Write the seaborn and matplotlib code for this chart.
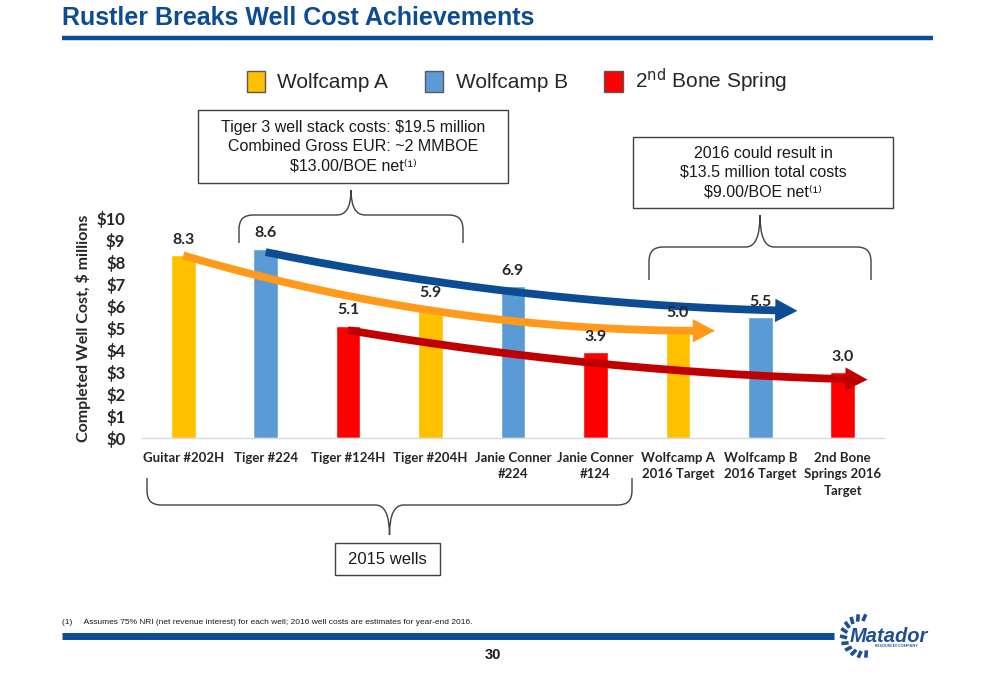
import numpy as np
import pandas as pd
import seaborn as sns
import matplotlib
matplotlib.use("Agg")
import matplotlib.pyplot as plt
from matplotlib.patches import Patch, FancyArrowPatch, Rectangle, PathPatch
from matplotlib.path import Path
from matplotlib.lines import Line2D

# ---------------- data ----------------
categories = ["Guitar #202H", "Tiger #224", "Tiger #124H", "Tiger #204H",
              "Janie Conner\n#224", "Janie Conner\n#124", "Wolfcamp A\n2016 Target",
              "Wolfcamp B\n2016 Target", "2nd Bone\nSprings 2016\nTarget"]
costs = [8.3, 8.6, 5.1, 5.9, 6.9, 3.9, 5.0, 5.5, 3.0]
formations = ["Wolfcamp A", "Wolfcamp B", "2nd Bone Spring"] * 3
formation_order = ["Wolfcamp A", "Wolfcamp B", "2nd Bone Spring"]
legend_labels = ["Wolfcamp A", "Wolfcamp B", "2$^{\\mathrm{nd}}$ Bone Spring"]
bar_colors = ["#FFC000", "#5B9BD5", "#FF0000"]
arrow_colors = ["#FF9A1A", "#0B4C94", "#C00000"]
# trend arrows (category index, $ millions)
trend_x = [[0, 3, 6], [1, 4, 7], [2, 5, 8]]
trend_y = [[8.3, 5.8, 4.88], [8.45, 6.65, 5.82], [4.9, 3.4, 2.68]]
trend_end = [6.45, 7.45, 8.3]
y_ticks = list(range(0, 11))
y_tick_labels = [f"${v}" for v in y_ticks]

title = "Rustler Breaks Well Cost Achievements"
box1_lines = ["Tiger 3 well stack costs: $19.5 million", "Combined Gross EUR: ~2 MMBOE",
              "$13.00/BOE net\u207d\u00b9\u207e"]
box2_lines = ["2016 could result in", "$13.5 million total costs",
              "$9.00/BOE net\u207d\u00b9\u207e"]
box3_lines = ["2015 wells"]
footnote = "(1)     Assumes 75% NRI (net revenue interest) for each well; 2016 well costs are estimates for year-end 2016."

df = pd.DataFrame({"category": categories, "cost": costs, "formation": formations})

# ---------------- figure ----------------
sns.set_theme(style="white")
plt.rcParams["font.family"] = ["Lato", "DejaVu Sans"]
plt.rcParams["mathtext.default"] = "regular"

W, H = 999, 675
fig = plt.figure(figsize=(W / 100, H / 100), dpi=100)
fig.patch.set_facecolor("white")


def px(x, y):
    return (x / W, 1 - y / H)


ax = fig.add_axes([142 / W, 1 - 438 / H, 742 / W, 220 / H])
ax.set_facecolor("white")

sns.barplot(data=df, x="category", y="cost", hue="formation", order=categories,
            hue_order=formation_order, palette=dict(zip(formation_order, bar_colors)),
            dodge=False, width=0.3, saturation=1, legend=False, ax=ax, zorder=2)

for c in ax.containers:
    for t in ax.bar_label(c, fmt="%.1f", padding=6, fontsize=11.5, fontweight="bold",
                          color="#262626"):
        t.set_zorder(8)

ax.set_xlim(-0.5, len(categories) - 0.5)
ax.set_ylim(0, 10)
ax.set_yticks(y_ticks)
ax.set_yticklabels(y_tick_labels, fontsize=12, fontweight="bold", color="#262626")
ax.set_xticks(range(len(categories)))
ax.set_xticklabels(categories, fontsize=9.5, fontweight="bold", color="#262626",
                   linespacing=1.45)
ax.tick_params(axis="x", length=0, pad=10)
ax.tick_params(axis="y", length=0, pad=12)
ax.set_xlabel("")
ax.set_ylabel("Completed Well Cost, $ millions", fontsize=11.5, fontweight="bold",
              color="#262626", labelpad=4)
for s in ["top", "right", "left"]:
    ax.spines[s].set_visible(False)
ax.spines["bottom"].set_color("#D9D9D9")
ax.spines["bottom"].set_linewidth(1)
ax.grid(False)

# trend arrows
for tx, ty, xe, col in zip(trend_x, trend_y, trend_end, arrow_colors):
    coef = np.polyfit(tx, ty, 2)
    xs = np.linspace(tx[0], xe - 0.2, 200)
    ax.plot(xs, np.polyval(coef, xs), color=col, lw=5.6, solid_capstyle="butt", zorder=4)
    xa = xe - 0.25
    arr = FancyArrowPatch((xa, np.polyval(coef, xa)), (xe, np.polyval(coef, xe)),
                          arrowstyle="-|>,head_length=0.8,head_width=0.42",
                          mutation_scale=20, color=col, lw=0, shrinkA=0, shrinkB=0,
                          zorder=5)
    ax.add_patch(arr)

# ---------------- page decorations ----------------
fig.text(*px(62, 18), title, fontsize=18, fontweight="bold", color="#0B4C94",
         family=["Liberation Sans Narrow", "Liberation Sans"], va="center", ha="left")
fig.add_artist(Line2D([62 / W, 933 / W], [1 - 38 / H] * 2, lw=3.2, color="#0B4C94",
                      solid_capstyle="butt"))
fig.add_artist(Line2D([62 / W, 834 / W], [1 - 636 / H] * 2, lw=5, color="#0B4C94",
                      solid_capstyle="butt"))
fig.text(*px(493, 655), "30", fontsize=10.5, fontweight="bold", color="#1a1a1a",
         family=["Liberation Sans Narrow", "Liberation Sans"], ha="center", va="center")
fig.text(*px(62, 622), footnote, fontsize=6, color="#1a1a1a",
         family=["Liberation Sans Narrow", "Liberation Sans"], ha="left", va="center")

# logo approximation
fig.text(*px(889, 636), "Matador", fontsize=14.5, fontweight="bold", style="italic",
         color="#1F4E9A", family=["Liberation Sans Narrow", "Liberation Sans"],
         ha="center", va="center")
fig.text(*px(896, 646), "RESOURCES COMPANY", fontsize=2.8, fontweight="bold",
         color="#1F4E9A", ha="center", va="center")
cx, cy, rr = 862, 636, 22
for a in np.linspace(80, 280, 11):
    t = np.deg2rad(a)
    x0, y0 = cx + rr * np.cos(t), cy - rr * np.sin(t)
    x1, y1 = cx + (rr - 7) * np.cos(t + 0.12), cy - (rr - 7) * np.sin(t + 0.12)
    fig.add_artist(Line2D([x0 / W, x1 / W], [1 - y0 / H, 1 - y1 / H], lw=2.6,
                          color="#1F4E9A", solid_capstyle="butt"))

# legend
handles = [Patch(facecolor=c, edgecolor="#595959", lw=1) for c in bar_colors]
fig.legend(handles, legend_labels, loc="center", bbox_to_anchor=px(517, 81), ncol=3,
           frameon=False, prop={"family": "Liberation Sans", "size": 15},
           handlelength=0.88, handleheight=1.2, handletextpad=0.6,
           columnspacing=1.75)


# text boxes
def box(x0, y0, x1, y1, lines, size=11.5, step=19):
    fig.add_artist(Rectangle(px(x0, y1), (x1 - x0) / W, (y1 - y0) / H,
                             transform=fig.transFigure, fill=True, facecolor="white",
                             edgecolor="#404040", lw=1))
    yc = (y0 + y1) / 2
    n = len(lines)
    for i, line in enumerate(lines):
        yy = yc + (i - (n - 1) / 2) * step
        fig.text(*px((x0 + x1) / 2, yy), line, fontsize=size, ha="center",
                 va="center", family=["Liberation Sans", "DejaVu Sans"],
                 color="#1a1a1a")


box(198, 110, 508, 183, box1_lines)
box(633, 137, 893, 208, box2_lines)
box(335, 543, 440, 575, box3_lines, size=12)


# braces
def brace(x0, x1, y_end, y_h, y_tip, r=14):
    xm = (x0 + x1) / 2
    s = np.sign(y_end - y_h)
    verts = [(x0, y_end), (x0, y_h + s * r), (x0, y_h), (x0 + r, y_h),
             (xm - r, y_h), (xm, y_h), (xm, y_tip),
             (xm, y_h), (xm + r, y_h), (x1 - r, y_h), (x1, y_h), (x1, y_h + s * r),
             (x1, y_end)]
    codes = [Path.MOVETO, Path.LINETO, Path.CURVE3, Path.CURVE3,
             Path.LINETO, Path.CURVE3, Path.CURVE3,
             Path.CURVE3, Path.CURVE3, Path.LINETO, Path.CURVE3, Path.CURVE3,
             Path.LINETO]
    verts = [px(x, y) for x, y in verts]
    fig.add_artist(PathPatch(Path(verts, codes), transform=fig.transFigure,
                             fill=False, edgecolor="#404040", lw=1))


brace(239, 463, 243, 215, 190)
brace(649, 871, 280, 247, 215)
brace(147, 632, 478, 505, 535)

fig.savefig("out.png", dpi=100, facecolor="white")
